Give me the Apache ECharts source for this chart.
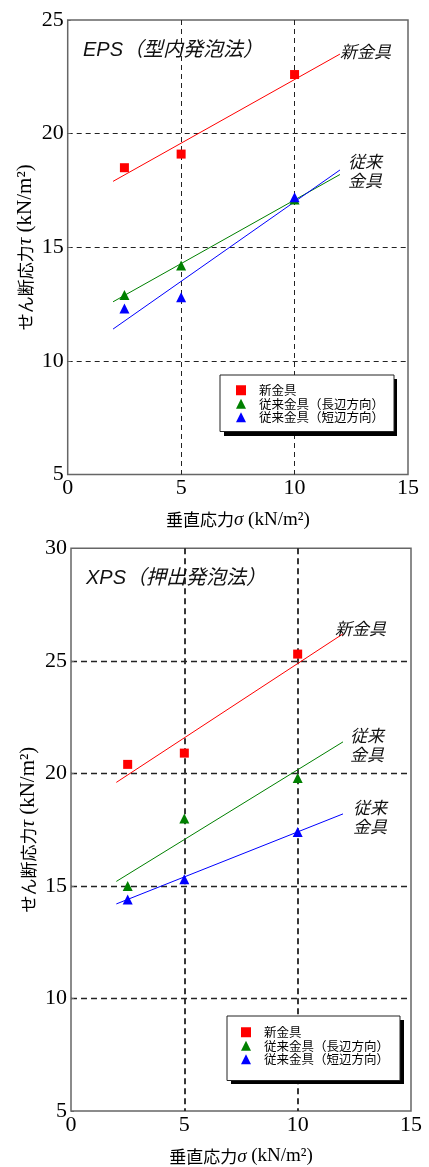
<!DOCTYPE html>
<html>
<head>
<meta charset="utf-8">
<script src="https://cdn.jsdelivr.net/npm/echarts@6/dist/echarts.min.js"></script>
<style>
  html, body { margin: 0; padding: 0; background: #fff; }
  #chart { width: 429px; height: 1167px; }
</style>
</head>
<body>
<div id="chart"></div>
<script>
// Normal stress σ (kN/m²) at which each shear test was run
const sigma = [2.5, 5, 10];

// EPS (bead-moulded foam): shear stress τ (kN/m²)
const epsNew = [18.5, 19.1, 22.6];
const epsOldLong = [12.9, 14.2, 17.1];
const epsOldShort = [12.3, 12.8, 17.2];

// XPS (extruded foam): shear stress τ (kN/m²)
const xpsNew = [20.4, 20.9, 25.3];
const xpsOldLong = [15.0, 18.0, 19.8];
const xpsOldShort = [14.4, 15.3, 17.4];

// Fitted trend lines: end points at σ = 2 and σ = 12
const fitX = [2, 12];
const epsFitNew = [17.9, 23.5];
const epsFitLong = [12.6, 18.2];
const epsFitShort = [11.4, 18.4];
const xpsFitNew = [19.6, 26.2];
const xpsFitLong = [15.2, 21.4];
const xpsFitShort = [14.2, 18.2];

// Legend names and panel titles
const seriesNames = ['新金具', '従来金具（長辺方向）', '従来金具（短辺方向）'];
const panelTitles = ['EPS（型内発泡法）', 'XPS（押出発泡法）'];
const lineTags = ['新金具', '従来\n金具'];

// Axis ranges / tick steps
const xTicks = { min: 0, max: 15, interval: 5 };
const yTicksEps = { min: 5, max: 25, interval: 5 };
const yTicksXps = { min: 5, max: 30, interval: 5 };

const RED = '#ff0000', GREEN = '#008000', BLUE = '#0000ff';
const SERIF = '"Liberation Serif", "Times New Roman", serif';
const CJK = '"Noto Sans CJK JP", "Noto Sans", sans-serif';

const chart = echarts.init(document.getElementById('chart'), null, { renderer: 'canvas' });

function pairs(xs, ys) { return xs.map((x, i) => [x, ys[i]]); }

function fitSeries(gi, ys, color, tag, offset) {
  const data = pairs(fitX, ys).map((p, i) => {
    if (tag && i === fitX.length - 1) {
      return {
        value: p,
        label: {
          show: true, position: 'right', distance: 5, offset: offset,
          formatter: tag, fontFamily: CJK, fontStyle: 'italic',
          fontSize: 17, lineHeight: 19, color: '#111'
        }
      };
    }
    return p;
  });
  return {
    type: 'line', name: 'fit', xAxisIndex: gi, yAxisIndex: gi, data: data,
    symbol: 'circle', symbolSize: 0, showSymbol: true, silent: true,
    lineStyle: { color: color, width: 1 }, itemStyle: { color: color },
    z: 2, animation: false
  };
}

function pointSeries(gi, name, ys, color, symbol, size) {
  return {
    type: 'scatter', name: name, xAxisIndex: gi, yAxisIndex: gi,
    data: pairs(sigma, ys), symbol: symbol, symbolSize: size,
    itemStyle: { color: color, opacity: 1 }, z: 3, animation: false
  };
}

function axisNameRich(cjkSize, serifSize) {
  return {
    c: { fontFamily: CJK, fontSize: cjkSize, color: '#000' },
    g: { fontFamily: SERIF, fontStyle: 'italic', fontSize: serifSize, color: '#000' },
    s: { fontFamily: SERIF, fontSize: serifSize, color: '#000' }
  };
}

function xAxisFor(gi, gridWidth, dash, nameGap) {
  return {
    type: 'value', gridIndex: gi, ...xTicks,
    axisLine: { show: false }, axisTick: { show: false },
    axisLabel: { fontFamily: SERIF, fontSize: 22, color: '#000', margin: 3 },
    splitLine: {
      show: true, showMinLine: false, showMaxLine: false,
      lineStyle: { color: '#222', width: gridWidth, type: dash }
    },
    name: '{c|垂直応力}{g|σ}{s| (kN/m²)}',
    nameLocation: 'middle', nameGap: nameGap,
    nameTextStyle: { rich: axisNameRich(17, 19) }
  };
}

function yAxisFor(gi, ticks, gridWidth, dash) {
  return {
    type: 'value', gridIndex: gi, ...ticks,
    axisLine: { show: false },
    axisTick: { show: true, inside: true, length: 3, lineStyle: { color: '#666' } },
    axisLabel: { fontFamily: SERIF, fontSize: 22, color: '#000', margin: 4 },
    splitLine: {
      show: true, showMinLine: false, showMaxLine: false,
      lineStyle: { color: '#222', width: gridWidth, type: dash }
    },
    name: '{c|せん断応力}{g|τ}{s| (kN/m²)}',
    nameLocation: 'middle', nameGap: 32, nameMoveOverlap: false,
    nameTextStyle: { rich: axisNameRich(17, 21) }
  };
}

function legendFor(left, top, padding) {
  return {
    orient: 'vertical', left: left, top: top,
    padding: padding, itemWidth: 10, itemHeight: 10, itemGap: 1,
    backgroundColor: '#fff', borderColor: '#222', borderWidth: 1,
    textStyle: { fontFamily: CJK, fontSize: 12.5, color: '#000', padding: [0, 0, 0, 8] },
    selectedMode: false, z: 5,
    data: seriesNames
  };
}

// Solid offset drop shadow sitting under each legend box
function legendShadow(x, y, w, h) {
  return { type: 'rect', shape: { x: x, y: y, width: w, height: h },
           style: { fill: '#000' }, z: 4, silent: true };
}

function titleFor(text, left, top) {
  return {
    text: text, left: left, top: top, padding: 0,
    textStyle: { fontFamily: '"Liberation Sans", ' + CJK, fontStyle: 'italic',
                 fontWeight: 'normal', fontSize: 20, color: '#111' }
  };
}

const option = {
  backgroundColor: '#fff',
  animation: false,
  title: [titleFor(panelTitles[0], 83, 40), titleFor(panelTitles[1], 86, 568)],
  legend: [legendFor(220, 375, [9, 10, 8, 16]), legendFor(227, 1016, [10, 11, 15, 14])],
  graphic: [legendShadow(224, 379, 173, 57), legendShadow(231, 1020, 173, 64)],
  grid: [
    { left: 67.7, right: 21, top: 20, height: 454.5, show: true,
      borderColor: '#666', borderWidth: 1.5, backgroundColor: '#fff' },
    { left: 71, right: 18, top: 548.3, height: 566.7, show: true,
      borderColor: '#666', borderWidth: 1.5, backgroundColor: '#fff' }
  ],
  xAxis: [xAxisFor(0, 1, [5, 4], 36), xAxisFor(1, 1.8, [6, 4], 36)],
  yAxis: [yAxisFor(0, yTicksEps, 1, [5, 4]), yAxisFor(1, yTicksXps, 1.4, [6, 4])],
  series: [
    // EPS panel
    fitSeries(0, epsFitNew, RED, lineTags[0], [-5, -3]),
    fitSeries(0, epsFitLong, GREEN, null, null),
    fitSeries(0, epsFitShort, BLUE, lineTags[1], [3, 1.5]),
    pointSeries(0, seriesNames[0], epsNew, RED, 'rect', 9),
    pointSeries(0, seriesNames[1], epsOldLong, GREEN, 'triangle', 10),
    pointSeries(0, seriesNames[2], epsOldShort, BLUE, 'triangle', 10),
    // XPS panel
    fitSeries(1, xpsFitNew, RED, lineTags[0], [-13, -5]),
    fitSeries(1, xpsFitLong, GREEN, lineTags[1], [2, 3]),
    fitSeries(1, xpsFitShort, BLUE, lineTags[1], [5, 3]),
    pointSeries(1, seriesNames[0], xpsNew, RED, 'rect', 9),
    pointSeries(1, seriesNames[1], xpsOldLong, GREEN, 'triangle', 10),
    pointSeries(1, seriesNames[2], xpsOldShort, BLUE, 'triangle', 10)
  ]
};

chart.setOption(option);
</script>
</body>
</html>
